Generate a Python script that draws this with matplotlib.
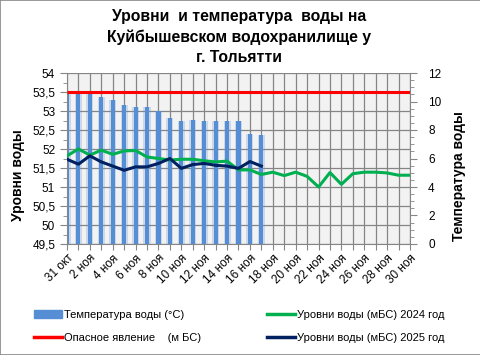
import numpy as np
import matplotlib
matplotlib.use("Agg")
import matplotlib.pyplot as plt
import matplotlib.transforms as mtransforms
from matplotlib.ticker import FixedLocator, MultipleLocator, FuncFormatter
from matplotlib.patches import Rectangle, Patch
from matplotlib.lines import Line2D

plt.rcParams['font.family'] = ['Liberation Sans', 'DejaVu Sans']

# categories: 31 Oct .. 30 Nov
days = ['31 окт'] + [f'{d} ноя' for d in range(1, 31)]

# water temperature, °C (2025)
temp = [10.7, 10.7, 10.6, 10.3, 10.1, 9.75, 9.6, 9.6, 9.3, 8.85,
        8.65, 8.7, 8.6, 8.6, 8.6, 8.6, 7.75, 7.65]

# water level 2024, m BS
level_2024 = [51.82, 52.0, 51.84, 51.97, 51.86, 51.95, 51.96, 51.79, 51.75, 51.71,
              51.73, 51.73, 51.69, 51.66, 51.68, 51.45, 51.45, 51.33, 51.39, 51.30,
              51.39, 51.28, 51.0, 51.38, 51.07, 51.35, 51.39, 51.39, 51.37, 51.31,
              51.31]

# water level 2025, m BS
level_2025 = [51.73, 51.6, 51.82, 51.66, 51.55, 51.44, 51.53, 51.53, 51.62, 51.75,
              51.49, 51.59, 51.62, 51.57, 51.55, 51.49, 51.67, 51.55]

danger = [53.5] * len(days)

level_ticks = np.arange(49.5, 54.01, 0.5)
temp_ticks = np.arange(0, 12.1, 2)

fig = plt.figure(figsize=(4.81, 3.55), dpi=100)
fig.patches.append(Rectangle((0, 0), 1, 1, transform=fig.transFigure,
                             fill=False, edgecolor='#888888', lw=1.2))

ax = fig.add_axes([67 / 481, 1 - 244 / 355, (410 - 67) / 481, (244 - 73) / 355])
axr = ax.twinx()   # only carries the temperature scale
ax.set_facecolor('#f2f2f2')

x = np.arange(len(days))
xt = np.arange(len(temp))

ax.set_axisbelow(True)
ax.grid(True, which='major', color='#858585', lw=0.9)

# temperature bars use the right-hand scale
ax.set_xlim(0, len(days) - 1)
axr.set_ylim(0, 12)
ax.set_ylim(49.5, 54)
tr = mtransforms.blended_transform_factory(ax.transData, axr.transData)
ax.bar(xt, temp, width=0.62, color='#558ed5', alpha=0.25, zorder=1.5, transform=tr)
ax.bar(xt, temp, width=0.36, color='#558ed5', zorder=1.6, transform=tr)

# level lines (left axis)
ax.plot(x, danger, color='#ff0000', lw=2.2, solid_capstyle='butt', zorder=3)
ax.plot(x, level_2024, color='#00b050', lw=2.2, zorder=3)
ax.plot(xt, level_2025, color='#002060', lw=2.2, zorder=3)
ax.set_xlim(0, len(days) - 1)
ax.set_ylim(49.5, 54)
ax.yaxis.set_major_locator(FixedLocator(level_ticks))
ax.yaxis.set_minor_locator(MultipleLocator(0.25))
ax.yaxis.set_major_formatter(FuncFormatter(lambda v, p: f'{v:g}'.replace('.', ',')))
axr.yaxis.set_major_locator(FixedLocator(temp_ticks))
axr.yaxis.set_minor_locator(MultipleLocator(0.5))

ax.set_xticks(x)
ax.set_xticklabels([d if i % 2 == 0 else '' for i, d in enumerate(days)],
                   rotation=45, ha='right', rotation_mode='anchor', fontsize=8.5)

for a in (ax, axr):
    for s in a.spines.values():
        s.set_visible(False)
    a.tick_params(which='both', color='#868686', labelsize=8.5)
    a.tick_params(which='major', length=5, pad=3.5)
    a.tick_params(which='minor', length=3)
axr.tick_params(which='major', pad=8)
ax.spines['left'].set_visible(True)
ax.spines['left'].set_color('#868686')
ax.spines['bottom'].set_visible(True)
ax.spines['bottom'].set_color('#868686')
axr.spines['right'].set_visible(True)
axr.spines['right'].set_color('#868686')
ax.tick_params(axis='x', length=4, pad=2)

ax.set_ylabel('Уровни воды', fontsize=10, fontweight='bold')
ax.yaxis.set_label_coords(-0.122, 0.4)
axr.set_ylabel('Температура воды', fontsize=10, fontweight='bold')
axr.yaxis.set_label_coords(1.122, 0.4)

fig.text(0.497, 0.975, 'Уровни  и температура  воды на\nКуйбышевском водохранилище у\nг. Тольятти',
         ha='center', va='top', fontsize=11.3, fontweight='bold', linespacing=1.45)

h1 = [Patch(color='#558ed5'), Line2D([], [], color='#ff0000', lw=2.5)]
l1 = ['Температура воды (°С)', 'Опасное явление    (м БС)']
h2 = [Line2D([], [], color='#00b050', lw=2.5), Line2D([], [], color='#002060', lw=2.5)]
l2 = ['Уровни воды (мБС) 2024 год', 'Уровни воды (мБС) 2025 год']
leg_kw = dict(loc='upper left', frameon=False, fontsize=8, handlelength=2.5,
              handletextpad=0.2, labelspacing=1.2, borderpad=0, borderaxespad=0)
fig.legend(h1, l1, bbox_to_anchor=(34 / 481, 1 - 310 / 355), **leg_kw)
fig.legend(h2, l2, bbox_to_anchor=(267 / 481, 1 - 310 / 355), **leg_kw)

fig.savefig('out.png', dpi=100)
